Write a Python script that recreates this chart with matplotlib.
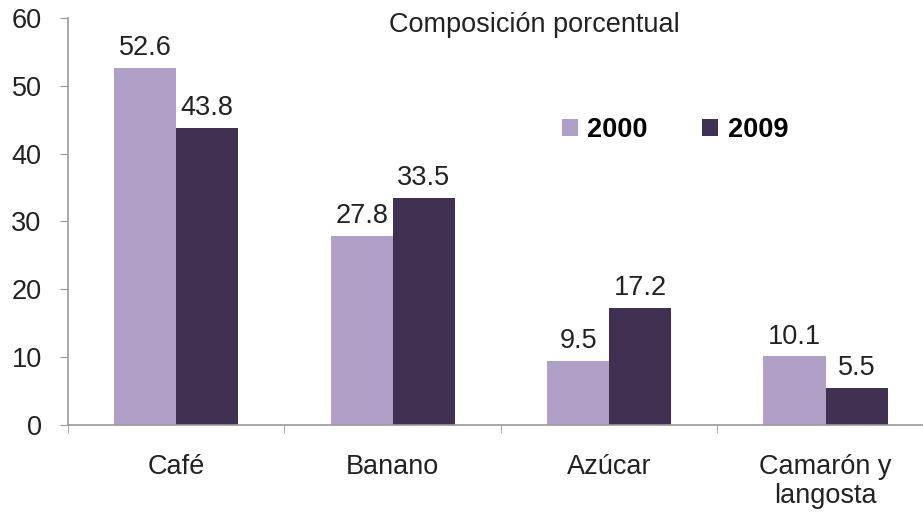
import matplotlib.pyplot as plt
import numpy as np

plt.rcParams['font.family'] = ['Liberation Sans', 'DejaVu Sans']

# datos
categories = ['Café', 'Banano', 'Azúcar', 'Camarón y\nlangosta']
years = ['2000', '2009']
values_2000 = [52.6, 27.8, 9.5, 10.1]
values_2009 = [43.8, 33.5, 17.2, 5.5]

colors = ['#B0A0C8', '#403052']
bar_w = 0.287
x = np.arange(len(categories))

fig = plt.figure(figsize=(9.23, 5.13), dpi=100)
ax = fig.add_axes([0.0737, 0.1715, 0.9263, 0.7935])

b1 = ax.bar(x - bar_w / 2, values_2000, bar_w, color=colors[0], label=years[0])
b2 = ax.bar(x + bar_w / 2, values_2009, bar_w, color=colors[1], label=years[1])

for bars in (b1, b2):
    for rect in bars:
        h = rect.get_height()
        ax.annotate(f'{h:.1f}', (rect.get_x() + rect.get_width() / 2, h),
                    xytext=(0, 5), textcoords='offset points',
                    ha='center', va='bottom', fontsize=19.5, color='#222222')

ax.set_ylim(0, 60)
ax.set_xlim(-0.5, 3.45)
ax.set_yticks(range(0, 61, 10))
ax.set_xticks(x)
ax.set_xticklabels(categories, fontsize=19.5, color='#222222', linespacing=1.15)
ax.set_xticks(np.arange(-0.5, 3.5, 1), minor=True)
ax.tick_params(axis='x', which='major', length=0, pad=21)
ax.tick_params(axis='x', which='minor', length=6, color='#999999', direction='out')
ax.tick_params(axis='y', length=6, color='#999999', labelsize=19.5, labelcolor='#222222', pad=13)

for s in ['top', 'right']:
    ax.spines[s].set_visible(False)
for s in ['left', 'bottom']:
    ax.spines[s].set_color('#999999')
    ax.spines[s].set_linewidth(1.2)

ax.text(0.545, 0.983, 'Composición porcentual', transform=ax.transAxes,
        ha='center', va='center', fontsize=19.5, color='#222222')

leg = ax.legend(loc='center', bbox_to_anchor=(0.71, 0.725), ncol=2, frameon=False,
                handlelength=0.6, handleheight=0.6, handletextpad=0.35,
                columnspacing=2.0, prop={'weight': 'bold', 'size': 19.5})

fig.savefig('out.png', dpi=100)
